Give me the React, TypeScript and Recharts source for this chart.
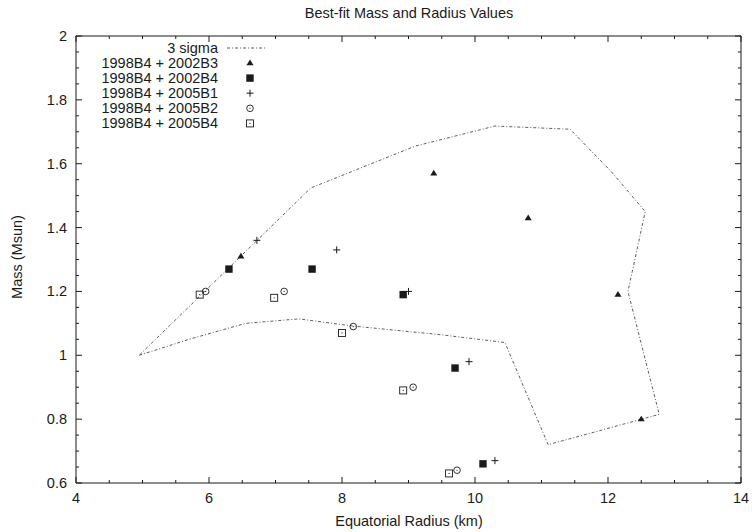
import { ScatterChart, Scatter, XAxis, YAxis, Legend } from 'recharts'

// 3 sigma contour (radius km, mass Msun), traced in drawing order
const sigmaRadius = [4.95, 5.7, 6.55, 7.35, 8.15, 9.5, 10.45, 11.1, 12.77, 12.3, 12.56, 12.05, 11.43, 10.3, 9.1, 7.53, 4.95]
const sigmaMass = [1.0, 1.05, 1.1, 1.114, 1.092, 1.064, 1.04, 0.72, 0.815, 1.2, 1.45, 1.575, 1.708, 1.718, 1.655, 1.524, 1.0]

const b3Radius = [6.48, 9.38, 10.8, 12.15, 12.5]
const b3Mass = [1.31, 1.57, 1.43, 1.19, 0.8]
const b4Radius = [6.3, 7.55, 8.92, 9.7, 10.12]
const b4Mass = [1.27, 1.27, 1.19, 0.96, 0.66]
const b1Radius = [6.72, 7.92, 9.0, 9.91, 10.3]
const b1Mass = [1.36, 1.33, 1.2, 0.98, 0.67]
const b2Radius = [5.95, 7.13, 8.17, 9.07, 9.73]
const b2Mass = [1.2, 1.2, 1.09, 0.9, 0.64]
const b5Radius = [5.86, 6.98, 8.0, 8.92, 9.61]
const b5Mass = [1.19, 1.18, 1.07, 0.89, 0.63]

const seriesNames = [
  '1998B4 + 2002B3',
  '1998B4 + 2002B4',
  '1998B4 + 2005B1',
  '1998B4 + 2005B2',
  '1998B4 + 2005B4'
]

const majorX = [4, 6, 8, 10, 12, 14]
const allX = [4, 4.5, 5, 5.5, 6, 6.5, 7, 7.5, 8, 8.5, 9, 9.5, 10, 10.5, 11, 11.5, 12, 12.5, 13, 13.5, 14]
const majorY = [0.6, 0.8, 1, 1.2, 1.4, 1.6, 1.8, 2]
const allY = [0.6, 0.65, 0.7, 0.75, 0.8, 0.85, 0.9, 0.95, 1, 1.05, 1.1, 1.15, 1.2, 1.25, 1.3, 1.35, 1.4, 1.45, 1.5, 1.55, 1.6, 1.65, 1.7, 1.75, 1.8, 1.85, 1.9, 1.95, 2]

const zip = (xs: number[], ys: number[]) => xs.map((r, i) => ({ r, m: ys[i] }))

const ink = '#1a1a1a'
const font = '"Liberation Sans", Arial, sans-serif'
const fs = 14.5

const Tri = ({ cx, cy }: any) => (
  <polygon points={`${cx},${cy - 3.5} ${cx + 3.5},${cy + 2.2} ${cx - 3.5},${cy + 2.2}`} fill={ink} />
)
const Box = ({ cx, cy }: any) => <rect x={cx - 3.7} y={cy - 3.7} width={7.4} height={7.4} fill={ink} />
const Plus = ({ cx, cy }: any) => (
  <path d={`M${cx - 3.5},${cy}H${cx + 3.5}M${cx},${cy - 3.5}V${cy + 3.5}`} stroke={ink} strokeWidth={1} />
)
const Ring = ({ cx, cy }: any) => (
  <g>
    <circle cx={cx} cy={cy} r={3.3} fill="none" stroke={ink} strokeWidth={0.9} />
    <circle cx={cx} cy={cy} r={0.6} fill={ink} />
  </g>
)
const OpenBox = ({ cx, cy }: any) => (
  <g>
    <rect x={cx - 3.5} y={cy - 3.5} width={7} height={7} fill="none" stroke={ink} strokeWidth={0.9} />
    <circle cx={cx} cy={cy} r={0.6} fill={ink} />
  </g>
)
const NoDot = () => null

const shapes = [Tri, Box, Plus, Ring, OpenBox]

const BottomTick = ({ x, y, payload }: any) => {
  const major = majorX.includes(payload.value)
  return (
    <g>
      <line x1={x} x2={x} y1={y} y2={y - (major ? 6 : 3)} stroke={ink} />
      {major && (
        <text x={x} y={y + 20} textAnchor="middle" fontSize={fs} fill={ink} fontFamily={font}>
          {payload.value}
        </text>
      )}
    </g>
  )
}
const TopTick = ({ x, y, payload }: any) => {
  const major = majorX.includes(payload.value)
  return <line x1={x} x2={x} y1={y} y2={y + (major ? 6 : 3)} stroke={ink} />
}
const LeftTick = ({ x, y, payload }: any) => {
  const major = majorY.includes(payload.value)
  return (
    <g>
      <line x1={x} x2={x + (major ? 6 : 3)} y1={y} y2={y} stroke={ink} />
      {major && (
        <text x={x - 9} y={y + 5} textAnchor="end" fontSize={fs} fill={ink} fontFamily={font}>
          {payload.value}
        </text>
      )}
    </g>
  )
}
const RightTick = ({ x, y, payload }: any) => {
  const major = majorY.includes(payload.value)
  return <line x1={x} x2={x - (major ? 6 : 3)} y1={y} y2={y} stroke={ink} />
}

const LegendBox = () => (
  <svg width={200} height={100} style={{ display: 'block' }}>
    <text x={138} y={13} textAnchor="end" fontSize={fs} fill={ink} fontFamily={font}>3 sigma</text>
    <line x1={147} x2={187} y1={8} y2={8} stroke="#333" strokeWidth={0.8} strokeDasharray="3 2 1 2" />
    {seriesNames.map((name, i) => {
      const S = shapes[i]
      const cy = 23 + i * 15.1
      return (
        <g key={name}>
          <text x={138} y={cy + 5} textAnchor="end" fontSize={fs} fill={ink} fontFamily={font}>{name}</text>
          <S cx={170} cy={cy} />
        </g>
      )
    })}
  </svg>
)

export default function App() {
  const series = [
    zip(b3Radius, b3Mass),
    zip(b4Radius, b4Mass),
    zip(b1Radius, b1Mass),
    zip(b2Radius, b2Mass),
    zip(b5Radius, b5Mass)
  ]
  return (
    <div style={{ position: 'absolute', left: 0, top: 0, width: 752, height: 532, background: '#fff', fontFamily: font }}>
      <ScatterChart width={752} height={532} margin={{ top: 35, right: 10, bottom: 48, left: 75 }}>
        <XAxis
          type="number"
          dataKey="r"
          domain={[4, 14]}
          ticks={allX}
          interval={0}
          allowDataOverflow
          height={1}
          tickSize={0}
          tickMargin={0}
          tickLine={false}
          axisLine={{ stroke: ink }}
          tick={(p: any) => <BottomTick {...p} />}
        />
        <XAxis
          xAxisId="t"
          orientation="top"
          type="number"
          dataKey="r"
          domain={[4, 14]}
          ticks={allX}
          interval={0}
          allowDataOverflow
          height={1}
          tickSize={0}
          tickMargin={0}
          tickLine={false}
          axisLine={{ stroke: ink }}
          tick={(p: any) => <TopTick {...p} />}
        />
        <YAxis
          type="number"
          dataKey="m"
          domain={[0.6, 2]}
          ticks={allY}
          interval={0}
          allowDataOverflow
          width={1}
          tickSize={0}
          tickMargin={0}
          tickLine={false}
          axisLine={{ stroke: ink }}
          tick={(p: any) => <LeftTick {...p} />}
        />
        <YAxis
          yAxisId="r"
          orientation="right"
          type="number"
          dataKey="m"
          domain={[0.6, 2]}
          ticks={allY}
          interval={0}
          allowDataOverflow
          width={1}
          tickSize={0}
          tickMargin={0}
          tickLine={false}
          axisLine={{ stroke: ink }}
          tick={(p: any) => <RightTick {...p} />}
        />
        <Scatter
          name="3 sigma"
          data={zip(sigmaRadius, sigmaMass)}
          line={{ stroke: '#333', strokeWidth: 0.8, strokeDasharray: '3 2 1 2' }}
          lineType="joint"
          shape={NoDot}
          isAnimationActive={false}
        />
        {series.map((d, i) => (
          <Scatter key={seriesNames[i]} name={seriesNames[i]} data={d} shape={shapes[i]} isAnimationActive={false} />
        ))}
        <Legend
          layout="horizontal"
          verticalAlign="middle"
          content={() => <LegendBox />}
          wrapperStyle={{ position: 'absolute', top: 40, left: 80, width: 200, height: 100 }}
        />
      </ScatterChart>
      <svg width={752} height={532} style={{ position: 'absolute', left: 0, top: 0, pointerEvents: 'none' }}>
        <text x={409} y={18} textAnchor="middle" fontSize={fs} fill={ink} fontFamily={font}>
          Best-fit Mass and Radius Values
        </text>
        <text x={409} y={526} textAnchor="middle" fontSize={fs} fill={ink} fontFamily={font}>
          Equatorial Radius (km)
        </text>
        <text x={0} y={0} transform="translate(22,257) rotate(-90)" textAnchor="middle" fontSize={fs} fill={ink} fontFamily={font}>
          Mass (Msun)
        </text>
      </svg>
    </div>
  )
}
